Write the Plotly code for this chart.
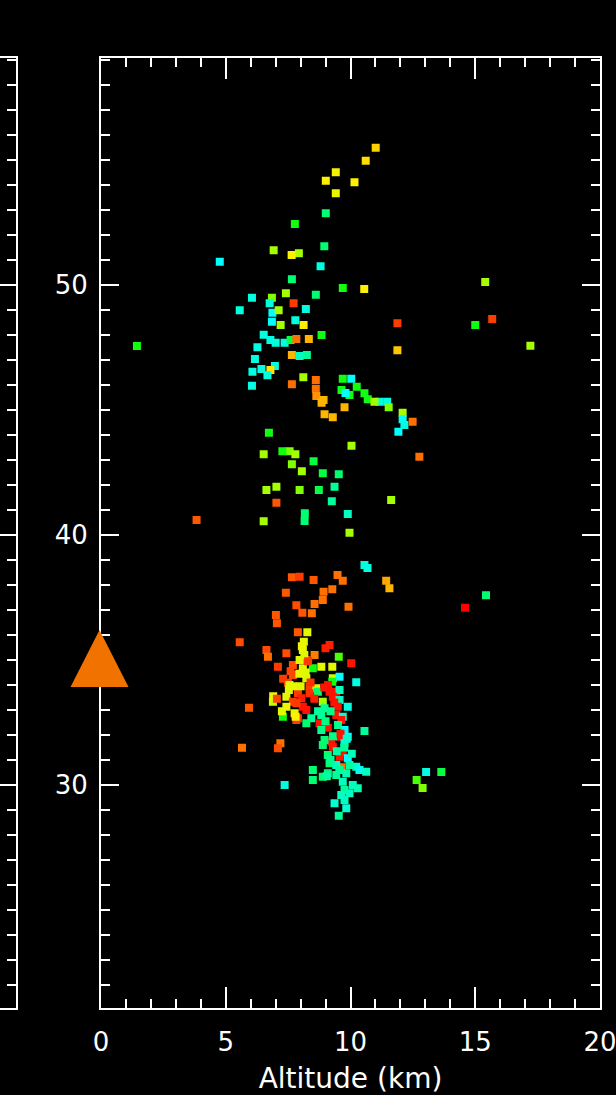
import plotly.graph_objects as go

# ---------------- data ----------------
# altitude (km), latitude-like vertical value, colour code (0=red ... 10=cyan)
alt_km = [
    11.01, 10.61, 9.41, 9.01, 10.16, 9.41, 9.01, 7.77, 6.92, 7.93, 7.64, 8.95, 4.76, 8.80, 7.65,
    7.41, 8.61, 9.69, 10.55, 6.05, 6.85, 7.72, 6.76, 5.56, 6.87, 7.12, 8.21, 6.85, 7.20, 7.79,
    8.12, 11.88, 8.84, 6.52, 6.79, 7.00, 7.36, 7.60, 7.83, 8.33, 11.88, 6.27, 6.17, 7.65, 7.96,
    8.25, 6.97, 6.43, 6.07, 6.79, 6.67, 6.05, 8.11, 7.65, 8.61, 9.69, 10.03, 8.61, 8.63, 8.92,
    8.84, 9.64, 10.25, 9.96, 9.80, 10.56, 10.69, 11.16, 10.96, 11.47, 11.53, 9.76, 8.96, 9.29, 12.09,
    12.09, 12.16, 11.92, 12.49, 6.73, 10.04, 6.52, 7.56, 7.27, 7.79, 7.65, 8.52, 8.05, 8.89, 9.53,
    9.36, 12.76, 6.63, 7.03, 7.96, 8.73, 9.25, 11.63, 7.03, 8.17, 8.16, 9.89, 9.96, 6.52, 10.56,
    10.68, 7.65, 7.96, 8.52, 9.48, 9.69, 11.43, 11.56, 8.92, 9.27, 8.89, 8.56, 7.41, 9.92, 7.83,
    8.45, 8.07, 15.43, 14.59, 7.01, 7.05, 7.89, 8.27, 1.44, 3.83, 5.56, 5.93, 5.65, 15.40, 15.68,
    15.00, 17.21, 13.03, 13.64, 12.65, 12.89,
    6.63, 7.43, 6.69, 9.16, 9.00, 8.13, 8.09, 8.56, 9.53, 8.23, 7.09, 7.69, 8.09, 8.49, 8.83,
    9.27, 10.03, 7.69, 8.23, 9.29, 9.56, 9.27, 10.23, 7.49, 8.36, 8.63, 7.53, 7.89, 8.36, 8.69,
    9.16, 9.43, 7.43, 9.56, 8.03, 6.89, 7.69, 8.89, 9.29, 9.56, 7.43, 8.09, 7.83, 8.96, 9.49,
    9.89, 7.76, 8.23, 7.29, 8.83, 9.43, 8.43, 7.89, 9.69, 7.96, 8.20,
    7.83, 7.80, 8.23, 8.76, 9.09, 9.63, 9.76, 8.83, 10.56, 9.89, 9.56, 9.23, 8.96, 9.76, 9.29,
    8.89, 7.19, 7.09, 9.69, 9.56, 9.89, 9.09, 9.16, 9.63, 9.43, 9.96, 10.23, 10.36, 10.63, 8.49,
    9.09, 9.43, 9.83, 8.89, 8.49, 9.69, 7.36, 10.09, 10.29, 9.76, 9.63, 9.96, 9.76, 9.36, 9.83,
    9.53,
    # extra fill of the dense lower cluster
    8.05, 8.15, 8.30, 7.60, 7.95, 8.40, 8.00, 7.70, 8.55, 8.95, 9.10, 9.35, 9.20, 8.70, 9.00,
    9.50, 9.30, 9.60, 9.75, 9.45, 9.85, 10.05, 9.20, 9.55, 9.05, 7.30, 7.55, 6.90, 7.25, 7.05,
]
lat = [
    55.49, 54.97, 54.51, 54.17, 54.11, 53.67, 52.87, 52.44, 51.39, 51.27, 51.20, 51.55, 50.93, 50.75, 50.23,
    49.67, 49.61, 49.88, 49.84, 49.49, 49.49, 49.27, 49.27, 48.99, 48.89, 48.99, 49.04, 48.53, 48.40, 48.59,
    48.40, 48.47, 48.00, 48.01, 47.80, 47.69, 47.69, 47.80, 47.84, 47.84, 47.39, 47.51, 47.04, 47.20, 47.16,
    47.20, 46.76, 46.64, 46.53, 46.60, 46.39, 45.97, 46.31, 46.03, 46.20, 46.25, 46.25, 45.85, 45.56, 45.40,
    45.29, 45.80, 45.93, 45.60, 45.68, 45.67, 45.43, 45.33, 45.33, 45.33, 45.11, 45.11, 44.83, 44.71, 44.89,
    44.63, 44.40, 44.13, 44.53, 44.09, 43.57, 43.23, 43.35, 43.35, 43.23, 42.83, 42.95, 42.55, 42.47, 42.43,
    41.93, 43.13, 41.80, 41.93, 41.80, 41.80, 41.35, 41.40, 41.29, 40.87, 40.56, 40.84, 40.09, 40.55, 38.80,
    38.68, 38.31, 38.33, 38.20, 38.40, 38.17, 38.17, 37.87, 37.73, 37.83, 37.40, 37.24, 37.69, 37.13, 37.19,
    36.87, 36.89, 37.59, 37.09, 36.80, 36.47, 36.11, 36.11, 47.56, 40.60, 35.71, 33.09, 31.49, 50.12, 48.64,
    48.40, 47.57, 30.52, 30.52, 30.20, 29.88,
    35.40, 35.27, 35.13, 35.60, 35.47, 35.73, 35.40, 35.20, 35.13, 35.00, 34.73, 34.80, 34.67, 34.67, 34.73,
    34.73, 34.87, 34.40, 34.27, 34.27, 34.33, 34.13, 34.11, 34.09, 33.93, 33.87, 33.80, 33.67, 33.67, 33.73,
    33.73, 33.73, 33.53, 33.80, 33.47, 33.33, 33.33, 33.33, 33.53, 33.40, 33.13, 33.13, 33.27, 33.07, 33.13,
    33.13, 32.87, 33.00, 32.73, 32.80, 32.80, 32.67, 32.67, 32.73, 35.00, 34.50,
    32.60, 32.73, 32.47, 32.47, 32.29, 32.60, 32.20, 32.20, 32.16, 31.93, 31.93, 31.73, 31.80, 31.67, 31.53,
    31.60, 31.67, 31.47, 31.33, 31.13, 31.07, 31.20, 30.87, 30.71, 30.80, 30.80, 30.73, 30.60, 30.53, 30.60,
    30.47, 30.40, 30.47, 30.33, 30.20, 30.13, 30.00, 30.00, 29.87, 29.80, 29.60, 29.67, 29.40, 29.27, 29.07,
    28.77,
    35.55, 35.20, 34.95, 34.55, 34.45, 34.10, 33.95, 33.95, 33.45, 33.90, 34.00, 33.30, 32.95, 32.95, 32.55,
    32.40, 31.95, 32.05, 31.50, 31.35, 31.85, 31.25, 31.00, 30.60, 30.35, 34.25, 34.00, 33.55, 32.95, 33.45,
]
code = [
    3.5, 3.7, 4.2, 4.0, 4.0, 4.4, 8.0, 7.0, 5.5, 5.5, 4.0, 8.0, 10.0, 9.5, 8.0,
    5.5, 8.0, 7.0, 4.0, 9.5, 6.0, 1.0, 9.5, 9.5, 10.0, 5.5, 9.5, 10.0, 5.5, 9.5,
    4.0, 1.0, 7.0, 9.5, 9.5, 9.5, 9.5, 7.5, 2.0, 3.0, 3.3, 9.5, 9.5, 3.0, 9.0,
    8.5, 9.5, 9.5, 9.5, 3.8, 9.5, 9.5, 5.5, 2.0, 2.0, 7.0, 10.0, 2.0, 2.5, 3.0,
    3.0, 7.0, 7.0, 7.0, 10.0, 7.0, 7.0, 9.5, 5.5, 9.5, 6.0, 3.0, 3.0, 3.0, 5.5,
    10.0, 9.5, 10.0, 2.0, 7.0, 5.5, 5.5, 6.0, 7.0, 5.5, 6.0, 7.5, 5.5, 7.5, 8.0,
    8.5, 2.0, 5.5, 5.5, 6.0, 7.5, 8.5, 5.5, 1.5, 8.0, 8.0, 9.0, 5.5, 5.5, 9.5,
    9.5, 1.5, 1.0, 1.5, 2.0, 2.0, 2.8, 3.0, 2.0, 2.0, 2.0, 2.0, 1.5, 2.0, 1.3,
    2.0, 1.5, 8.0, 0.0, 1.5, 1.5, 1.5, 4.5, 7.0, 1.5, 1.3, 1.5, 2.0, 5.5, 1.0,
    7.0, 5.5, 9.5, 7.5, 6.5, 6.0,
    1.3, 1.3, 2.0, 0.5, 0.5, 4.5, 4.3, 2.2, 6.5, 1.0, 1.0, 1.3, 4.5, 7.0, 4.5,
    4.5, 0.3, 1.2, 4.8, 5.0, 10.0, 7.0, 9.5, 1.2, 1.0, 4.8, 4.5, 1.0, 0.8, 8.0,
    0.3, 0.3, 4.5, 9.0, 0.5, 5.0, 1.0, 5.5, 0.3, 9.0, 4.3, 0.3, 1.0, 8.5, 0.3,
    9.5, 4.5, 0.3, 7.0, 8.5, 0.3, 8.5, 1.0, 9.3, 4.5, 4.6,
    1.0, 4.0, 8.0, 0.3, 0.3, 0.3, 10.0, 8.3, 8.5, 10.0, 0.3, 0.3, 8.0, 9.5, 0.3,
    8.0, 2.0, 1.3, 0.3, 0.3, 10.0, 8.0, 8.0, 2.0, 9.0, 8.5, 9.0, 9.8, 9.0, 8.0,
    8.0, 8.5, 8.8, 8.0, 8.0, 9.0, 9.5, 9.0, 8.8, 8.5, 9.0, 9.0, 9.0, 9.3, 9.3,
    8.5,
    4.4, 4.6, 1.0, 1.2, 4.5, 0.8, 4.6, 4.4, 0.5, 0.3, 0.3, 0.3, 8.3, 8.5, 8.2,
    8.4, 8.3, 0.3, 8.5, 8.6, 9.2, 9.0, 8.4, 8.6, 8.7, 1.0, 4.5, 4.4, 4.5, 1.2,
]

# marker location (orange triangle)
tri_alt = [0.0]
tri_lat = [33.92]

x_range = [0, 20]
y_range = [21.08, 59.08]
x_ticks = [0, 5, 10, 15, 20]
y_ticks = [30, 40, 50]

colorscale = [
    [0.00, "#FF0000"], [0.10, "#FF3C00"], [0.20, "#FF7000"], [0.30, "#FFB400"],
    [0.40, "#FFF000"], [0.50, "#C8FF00"], [0.60, "#80FF00"], [0.70, "#10FF10"],
    [0.80, "#00FF70"], [0.90, "#00FFC0"], [1.00, "#00FFFF"],
]

W, H = 616, 1095
L_PX, R_PX = 101, 600
main_dom = [L_PX / W, R_PX / W]
side_dom = [0, 16 / W]

fig = go.Figure()
fig.add_trace(go.Scatter(
    x=alt_km, y=lat, mode="markers",
    marker=dict(symbol="square", size=8, color=code, colorscale=colorscale,
                cmin=0, cmax=10, line=dict(width=0)),
    hoverinfo="skip", showlegend=False, xaxis="x", yaxis="y",
))
# dummy trace for the side panel so its axes are drawn
fig.add_trace(go.Scatter(x=[None], y=[None], xaxis="x2", yaxis="y2",
                         showlegend=False, hoverinfo="skip"))

# triangle anchored at data location (pixel-sized shape)
frac = (tri_alt[0] - x_range[0]) / (x_range[1] - x_range[0])
fig.add_shape(type="path", xref="paper", yref="y",
              xsizemode="pixel", ysizemode="pixel",
              xanchor=main_dom[0] + frac * (main_dom[1] - main_dom[0]) - 1.5 / W,
              yanchor=tri_lat[0],
              path="M -29,0 L 29,0 L 0,57 Z",
              fillcolor="#F27200", line=dict(width=0), layer="above")

tickfont = dict(family="DejaVu Sans", size=26, color="white")
axis_common = dict(showgrid=False, zeroline=False, showline=True, linecolor="white",
                   linewidth=2, ticks="inside", tickcolor="white", tickwidth=2,
                   mirror="ticks", automargin=False, ticklabeloverflow="allow")

fig.update_layout(
    width=W, height=H,
    margin=dict(l=0, r=0, t=58, b=87),
    paper_bgcolor="black", plot_bgcolor="black",
    xaxis=dict(domain=main_dom, range=x_range, tickvals=x_ticks, ticklen=21,
               minor=dict(dtick=1, ticklen=9, ticks="inside", tickcolor="white", tickwidth=2),
               tickfont=tickfont, ticklabelstandoff=10,
               title=dict(text="Altitude (km)", font=dict(family="DejaVu Sans", size=28, color="white"),
                          standoff=15),
               anchor="y", **axis_common),
    yaxis=dict(domain=[0, 1], range=y_range, tickvals=y_ticks, ticklen=18,
               minor=dict(dtick=1, ticklen=9, ticks="inside", tickcolor="white", tickwidth=2),
               tickfont=tickfont, ticklabelstandoff=6,
               anchor="x", **axis_common),
    xaxis2=dict(domain=side_dom, range=x_range, showgrid=False, zeroline=False,
                showline=True, linecolor="white", linewidth=2, mirror=True,
                ticks="", showticklabels=False, anchor="y2", automargin=False),
    yaxis2=dict(domain=[0, 1], range=y_range, tickvals=y_ticks, ticklen=18,
                showgrid=False, zeroline=False, showline=True, linecolor="white",
                linewidth=2, ticks="inside", tickcolor="white", tickwidth=2,
                minor=dict(dtick=1, ticklen=9, ticks="inside", tickcolor="white", tickwidth=2),
                side="right", showticklabels=False, anchor="x2", automargin=False),
)

fig.write_html("out.html")
